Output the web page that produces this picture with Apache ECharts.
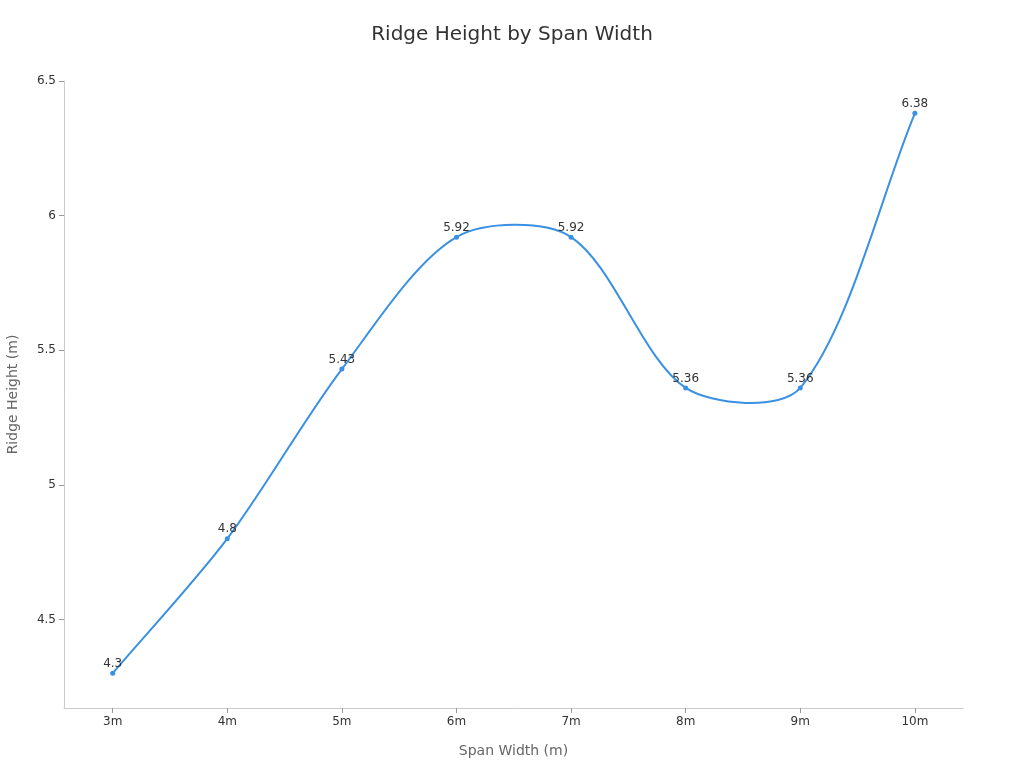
<!DOCTYPE html>
<html>
<head>
<meta charset="utf-8">
<script src="https://cdn.jsdelivr.net/npm/echarts@6/dist/echarts.min.js"></script>
<style>
  html, body { margin: 0; padding: 0; background: #fff; }
  #chart { width: 1024px; height: 768px; }
</style>
</head>
<body>
<div id="chart"></div>
<script>
var categories = ['3m', '4m', '5m', '6m', '7m', '8m', '9m', '10m'];
var spanWidths = [3, 4, 5, 6, 7, 8, 9, 10];
var ridgeHeights = [4.3, 4.8, 5.43, 5.92, 5.92, 5.36, 5.36, 6.38];
var yTicks = [4.5, 5, 5.5, 6, 6.5];

(function () {
    var myChart = echarts.init(document.querySelector('#chart'));
    var lineColor = '#3a90e3';
    var tension = 0.3;
    var points = spanWidths.map(function (w, i) {
        return [w, ridgeHeights[i]];
    });

    // spline through the points (cardinal-like, may overshoot like the original)
    function renderCurve(params, api) {
        if (params.dataIndex !== 0) return null;
        var p = points.map(function (d) { return api.coord(d); });
        var n = p.length;
        var cps = p.map(function (cur, i) {
            var prev = p[i - 1] || cur;
            var next = p[i + 1] || cur;
            var d01 = Math.hypot(cur[0] - prev[0], cur[1] - prev[1]);
            var d12 = Math.hypot(next[0] - cur[0], next[1] - cur[1]);
            var s01 = d01 / (d01 + d12) || 0;
            var s12 = d12 / (d01 + d12) || 0;
            var fa = tension * s01, fb = tension * s12;
            return {
                prev: [cur[0] - fa * (next[0] - prev[0]), cur[1] - fa * (next[1] - prev[1])],
                next: [cur[0] + fb * (next[0] - prev[0]), cur[1] + fb * (next[1] - prev[1])]
            };
        });
        var children = [];
        for (var i = 0; i < n - 1; i++) {
            children.push({
                type: 'bezierCurve',
                shape: {
                    x1: p[i][0], y1: p[i][1],
                    x2: p[i + 1][0], y2: p[i + 1][1],
                    cpx1: cps[i].next[0], cpy1: cps[i].next[1],
                    cpx2: cps[i + 1].prev[0], cpy2: cps[i + 1].prev[1]
                },
                style: { stroke: lineColor, lineWidth: 2, fill: null }
            });
        }
        return { type: 'group', children: children };
    }

    myChart.setOption({
        textStyle: { fontFamily: 'DejaVu Sans' },
        title: {
            text: 'Ridge Height by Span Width',
            left: 'center',
            top: 20,
            textStyle: { fontSize: 20, fontWeight: 'normal', color: '#333' }
        },
        grid: {
            left: 64,
            right: 61,
            top: 81,
            bottom: 60,
            outerBoundsMode: 'none'
        },
        xAxis: {
            type: 'value',
            min: 2.575,
            max: 10.42,
            name: 'Span Width (m)',
            nameLocation: 'middle',
            nameGap: 36,
            nameTextStyle: { fontSize: 14, color: '#666' },
            splitLine: { show: false },
            axisLine: { show: true, lineStyle: { color: '#ccc' } },
            axisTick: { show: true, customValues: spanWidths, lineStyle: { color: '#999' } },
            axisLabel: {
                customValues: spanWidths,
                color: '#333',
                fontSize: 12,
                formatter: function (v) {
                    return categories[spanWidths.indexOf(v)];
                }
            }
        },
        yAxis: {
            type: 'value',
            min: 4.171,
            max: 6.5,
            name: 'Ridge Height (m)',
            nameLocation: 'middle',
            nameGap: 44,
            nameTextStyle: { fontSize: 14, color: '#666' },
            splitLine: { show: false },
            axisLine: { show: true, lineStyle: { color: '#ccc' } },
            axisTick: { show: true, customValues: yTicks, lineStyle: { color: '#999' } },
            axisLabel: { customValues: yTicks, color: '#333', fontSize: 12 }
        },
        series: [{
            type: 'custom',
            data: points,
            renderItem: renderCurve,
            silent: true,
            z: 1
        }, {
            type: 'line',
            data: points,
            symbol: 'circle',
            symbolSize: 5,
            z: 2,
            itemStyle: { color: lineColor },
            lineStyle: { width: 0, opacity: 0 },
            label: {
                show: true,
                position: 'top',
                distance: 1,
                color: '#333',
                fontSize: 12,
                formatter: function (p) { return p.value[1]; }
            }
        }]
    });
})();
</script>
</body>
</html>
